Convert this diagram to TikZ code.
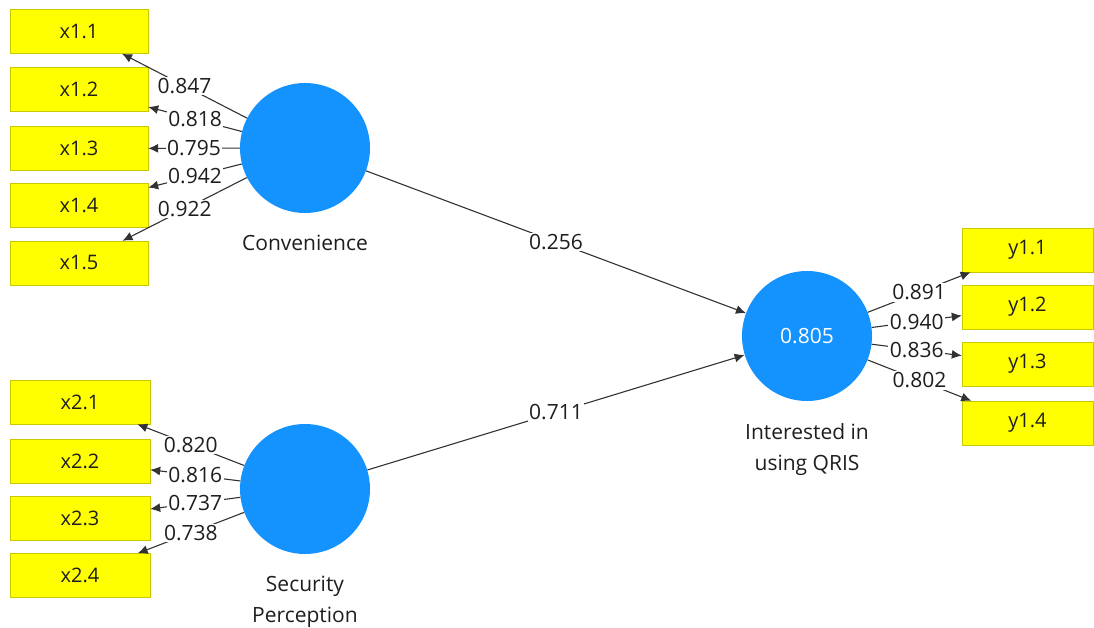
\documentclass[tikz,border=0pt]{standalone}
\usepackage{fontspec}
\setmainfont{Open Sans}
\usetikzlibrary{arrows.meta,positioning}

\definecolor{lvblue}{RGB}{20,147,255}
\definecolor{mvyellow}{RGB}{255,255,0}
\definecolor{mvborder}{RGB}{200,200,0}
\definecolor{edgegray}{RGB}{50,50,50}
\definecolor{txtgray}{RGB}{30,30,30}

\begin{document}
\begin{tikzpicture}[x=1pt,y=-1pt]
	\tikzstyle{latent}=[circle,fill=lvblue,minimum size=130pt,inner sep=0pt,text=white,font=\fontsize{21}{25}\selectfont]
	\tikzstyle{indicator}=[rectangle,draw=mvborder,fill=mvyellow,minimum width=138pt,minimum height=44pt,inner sep=0pt,text=txtgray,font=\fontsize{20}{24}\selectfont]
	\tikzstyle{lvlabel}=[align=center,text=txtgray,font=\fontsize{21}{31}\selectfont]
	\tikzstyle{loading}=[draw=edgegray,line width=1.1pt,-{Latex[length=10pt,width=9pt]}]
	\tikzstyle{coef}=[midway,fill=white,inner sep=1.5pt,text=txtgray,font=\fontsize{21}{25}\selectfont]

	\useasboundingbox (0,0) rectangle (1094,628);

	% latent variables
	\node[latent] (conv) at (305,148) {};
	\node[latent] (secp) at (305,489) {};
	\node[latent] (qris) at (807,336) {0.805};

	\node[lvlabel] (convname) at (305,243) {Convenience};
	\node[lvlabel] (secpname) at (305,602) {Security\\Perception};
	\node[lvlabel] (qrisname) at (807,450) {Interested in\\using QRIS};

	% indicators
	\node[indicator] (x11) at (79,31.5) {x1.1};
	\node[indicator] (x12) at (79,89) {x1.2};
	\node[indicator] (x13) at (79,148.5) {x1.3};
	\node[indicator] (x14) at (79,205) {x1.4};
	\node[indicator] (x15) at (79,263) {x1.5};

	\node[indicator, minimum width=140pt] (x21) at (80,402) {x2.1};
	\node[indicator, minimum width=140pt] (x22) at (80,461) {x2.2};
	\node[indicator, minimum width=140pt] (x23) at (80,518) {x2.3};
	\node[indicator, minimum width=140pt] (x24) at (80,575.5) {x2.4};

	\node[indicator, minimum width=131pt] (y11) at (1027.5,250) {y1.1};
	\node[indicator, minimum width=131pt] (y12) at (1027.5,307) {y1.2};
	\node[indicator, minimum width=131pt] (y13) at (1027.5,364) {y1.3};
	\node[indicator, minimum width=131pt] (y14) at (1027.5,423) {y1.4};

	% outer loadings
	\draw[loading] (conv) -- node[coef]{0.847} (x11);
	\draw[loading] (conv) -- node[coef]{0.818} (x12);
	\draw[loading] (conv) -- node[coef]{0.795} (x13);
	\draw[loading] (conv) -- node[coef]{0.942} (x14);
	\draw[loading] (conv) -- node[coef]{0.922} (x15);

	\draw[loading] (secp) -- node[coef]{0.820} (x21);
	\draw[loading] (secp) -- node[coef]{0.816} (x22);
	\draw[loading] (secp) -- node[coef]{0.737} (x23);
	\draw[loading] (secp) -- node[coef]{0.738} (x24);

	\draw[loading] (qris) -- node[coef]{0.891} (y11);
	\draw[loading] (qris) -- node[coef]{0.940} (y12);
	\draw[loading] (qris) -- node[coef]{0.836} (y13);
	\draw[loading] (qris) -- node[coef]{0.802} (y14);

	% path coefficients
	\draw[loading] (conv) -- node[coef]{0.256} (qris);
	\draw[loading] (secp) -- node[coef]{0.711} (qris);
\end{tikzpicture}
\end{document}
